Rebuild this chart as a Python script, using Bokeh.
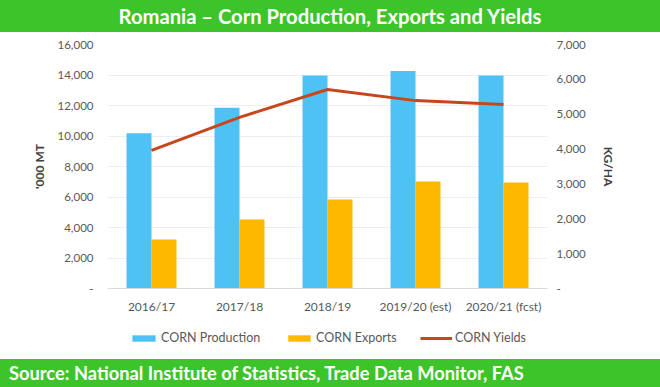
from bokeh.plotting import figure
from bokeh.models import (ColumnDataSource, Range1d, LinearAxis, FixedTicker,
                          NumeralTickFormatter, Legend, LegendItem, Div, FactorRange, Spacer)
from bokeh.transform import dodge
from bokeh.layouts import column, row
from bokeh.embed import file_html
from bokeh.resources import INLINE

# ---- data ----
years = ["2016/17", "2017/18", "2018/19", "2019/20 (est)", "2020/21 (fcst)"]
production = [10180, 11850, 13970, 14270, 13970]   # '000 MT
exports = [3210, 4520, 5840, 7010, 6950]           # '000 MT
yields = [3960, 4910, 5710, 5390, 5280]            # KG/HA
left_ticks = [0, 2000, 4000, 6000, 8000, 10000, 12000, 14000, 16000]
right_ticks = [0, 1000, 2000, 3000, 4000, 5000, 6000, 7000]
series_names = ["CORN Production", "CORN Exports", "CORN Yields"]

title_text = "Romania \u2013 Corn Production, Exports and Yields"
source_text = "Source: National Institute of Statistics, Trade Data Monitor, FAS"

GREEN = "#3CC42A"
BLUE = "#4DC3F5"
YELLOW = "#FFB800"
RED = "#C8461C"
FONT = "Lato"
TXT = "#595959"

src = ColumnDataSource(dict(year=years, prod=production, exp=exports, yld=yields))

W = 660
LPAD = 28   # room left of the y-axis title
p = figure(x_range=FactorRange(*years), y_range=Range1d(0, 16000),
           width=W - LPAD, height=286, output_backend="svg", toolbar_location=None,
           min_border_left=107 - LPAD, min_border_right=113, min_border_top=12,
           min_border_bottom=30, outline_line_color=None)
p.extra_y_ranges = {"yld": Range1d(0, 7000)}

bw = 0.284
p.vbar(x=dodge("year", -bw / 2, range=p.x_range), top="prod", width=bw,
       source=src, fill_color=BLUE, line_color=None)
p.vbar(x=dodge("year", bw / 2, range=p.x_range), top="exp", width=bw,
       source=src, fill_color=YELLOW, line_color=None)
p.line(x="year", y="yld", source=src, y_range_name="yld",
       line_color=RED, line_width=3)

def style_y(ax, label, lstand, tstand):
    ax.formatter = NumeralTickFormatter(format="0,0")
    ax.major_label_overrides = {0: "-"}
    ax.axis_label = label
    ax.axis_label_text_font = FONT
    ax.axis_label_text_font_style = "bold"
    ax.axis_label_text_font_size = "12px"
    ax.axis_label_text_color = "#404040"
    ax.axis_label_standoff = lstand
    ax.major_label_text_font = FONT
    ax.major_label_text_font_size = "11.5px"
    ax.major_label_text_color = TXT
    ax.major_label_standoff = tstand
    ax.axis_line_color = None
    ax.major_tick_line_color = None
    ax.minor_tick_line_color = None
    ax.major_tick_out = 0
    ax.major_tick_in = 0
    ax.minor_tick_out = 0

ya = p.yaxis[0]
ya.ticker = FixedTicker(ticks=left_ticks)
style_y(ya, "'000 MT", 8, 14)

ra = LinearAxis(y_range_name="yld", ticker=FixedTicker(ticks=right_ticks))
style_y(ra, "KG/HA", 12, 9)
p.add_layout(ra, "right")

xa = p.xaxis[0]
xa.major_label_text_font = FONT
xa.major_label_text_font_size = "12px"
xa.major_label_text_color = TXT
xa.major_label_standoff = 10
xa.axis_line_color = "#D9D9D9"
xa.major_tick_line_color = None
xa.minor_tick_line_color = None
xa.major_tick_out = 0
xa.major_tick_in = 0

p.xgrid.grid_line_color = None
p.ygrid.grid_line_color = "#EEEEEE"
p.ygrid.ticker = FixedTicker(ticks=left_ticks)

# ---- legend strip (separate figure so it sits below the axis) ----
lg = figure(width=W, height=41, output_backend="svg", toolbar_location=None,
            x_range=Range1d(0, 1), y_range=Range1d(0, 1),
            min_border_left=107, min_border_right=113, min_border_top=0,
            min_border_bottom=0, outline_line_color=None,
            x_axis_location=None, y_axis_location=None)
lg.xgrid.visible = False
lg.ygrid.visible = False
# legend-only renderers, kept outside the visible range of this strip
d1 = lg.vbar(x=[5], top=[5], bottom=[4], width=0.5, fill_color=BLUE, line_color=None)
d2 = lg.vbar(x=[5], top=[5], bottom=[4], width=0.5, fill_color=YELLOW, line_color=None)
d3 = lg.line(x=[5, 6], y=[5, 5], line_color=RED, line_width=3)

for name, rend, lx, gw in zip(series_names, [d1, d2, d3], [22, 178, 313], [29, 28, 32]):
    leg = Legend(items=[LegendItem(label=name, renderers=[rend])],
                 orientation="horizontal", location=(lx, 14),
                 glyph_width=gw, glyph_height=8, label_standoff=3,
                 label_text_font=FONT, label_text_font_size="12.5px",
                 label_text_color=TXT, border_line_color=None,
                 background_fill_alpha=0, padding=0, margin=0)
    lg.add_layout(leg)

top = Div(text=f'<div style="width:{W}px;height:32px;line-height:32px;text-align:center;'
               f'background:{GREEN};color:white;font-family:{FONT};font-weight:bold;'
               f'font-size:20.2px;">{title_text}</div>',
          width=W, height=32, margin=0)
bottom = Div(text=f'<div style="width:{W}px;height:28px;line-height:28px;text-align:left;'
                  f'background:{GREEN};color:white;font-family:{FONT};font-weight:bold;'
                  f'font-size:18.3px;padding-left:9px;box-sizing:border-box;">{source_text}</div>',
             width=W, height=28, margin=0)

mid = row(Spacer(width=LPAD, height=286, margin=0), p, spacing=0)
layout = column(top, mid, lg, bottom, spacing=0)
open("out.html", "w").write(file_html(layout, INLINE))
